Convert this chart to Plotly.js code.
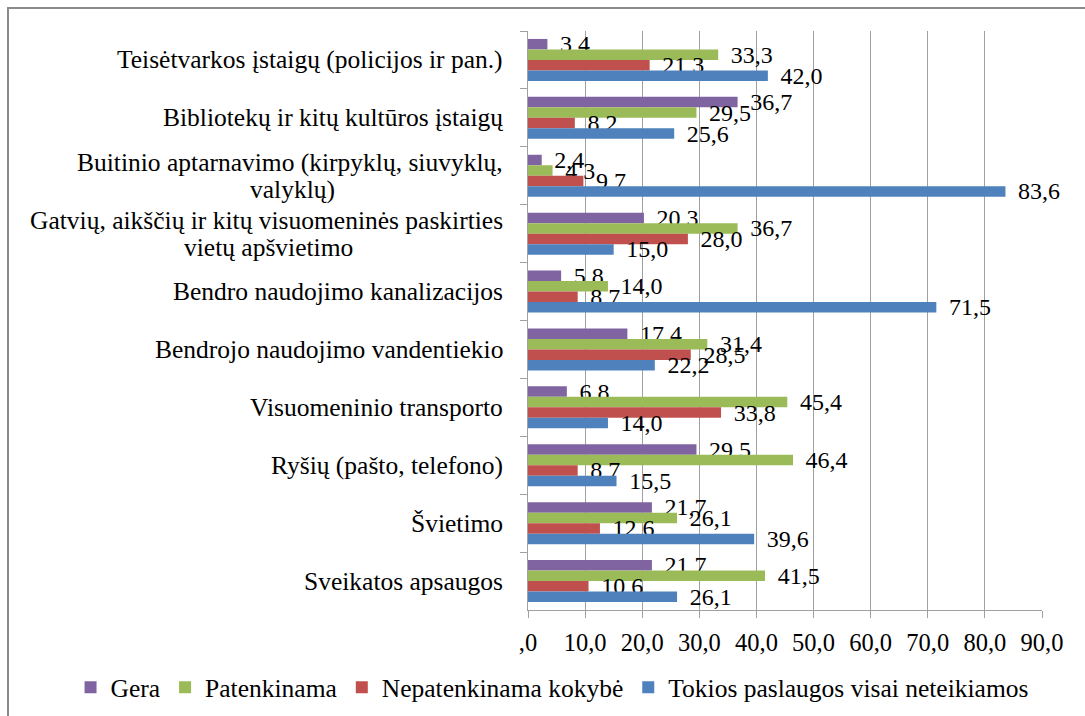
<!DOCTYPE html>
<html>
<head>
<meta charset="utf-8">
<script src="https://cdn.plot.ly/plotly-3.0.1.min.js"></script>
<style>
  html, body { margin: 0; padding: 0; background: #fff; }
  #wrap { position: relative; width: 1085px; height: 716px; overflow: hidden; }
  #chart { position: absolute; left: 0; top: 0; width: 1085px; height: 716px; }
  #frame { position: absolute; left: 7px; top: 7px; width: 1200px; height: 800px;
           border: 2px solid #8a8a8a; pointer-events: none; box-sizing: border-box; }
</style>
</head>
<body>
<div id="wrap">
  <div id="chart"></div>
  <div id="frame"></div>
</div>
<script>
// Categories, top to bottom
const categories = [
  "Teisėtvarkos įstaigų (policijos ir pan.)",
  "Bibliotekų ir kitų kultūros įstaigų",
  "Buitinio aptarnavimo (kirpyklų, siuvyklų,<br>valyklų)",
  "Gatvių, aikščių ir kitų visuomeninės paskirties<br>vietų apšvietimo",
  "Bendro naudojimo kanalizacijos",
  "Bendrojo naudojimo vandentiekio",
  "Visuomeninio transporto",
  "Ryšių (pašto, telefono)",
  "Švietimo",
  "Sveikatos apsaugos"
];

const seriesNames = ["Gera", "Patenkinama", "Nepatenkinama kokybė", "Tokios paslaugos visai neteikiamos"];
const seriesColors = ["#8064A2", "#9BBB59", "#C0504D", "#4F81BD"];

const gera          = [3.4, 36.7, 2.4, 20.3, 5.8, 17.4, 6.8, 29.5, 21.7, 21.7];
const patenkinama   = [33.3, 29.5, 4.3, 36.7, 14.0, 31.4, 45.4, 46.4, 26.1, 41.5];
const nepatenkinama = [21.3, 8.2, 9.7, 28.0, 8.7, 28.5, 33.8, 8.7, 12.6, 10.6];
const tokios        = [42.0, 25.6, 83.6, 15.0, 71.5, 22.2, 14.0, 15.5, 39.6, 26.1];

const xTickVals   = [0, 10, 20, 30, 40, 50, 60, 70, 80, 90];
const xTickLabels = [",0", "10,0", "20,0", "30,0", "40,0", "50,0", "60,0", "70,0", "80,0", "90,0"];

const FONT = "Liberation Serif, Times New Roman, Tinos, DejaVu Serif, serif";
const seriesValues = [gera, patenkinama, nepatenkinama, tokios];

const traces = seriesValues.map((vals, i) => ({
  type: "bar",
  orientation: "h",
  name: seriesNames[i],
  x: vals,
  y: categories,
  marker: { color: seriesColors[i] },
  texttemplate: "\u2009\u2009%{x:.1f}",
  textposition: "outside",
  constraintext: "none",
  cliponaxis: false,
  textfont: { family: FONT, size: 24, color: "#000" },
  hoverinfo: "x+name"
}));

// Category labels as annotations (centered multi-line)
const LH = 27;
const annotations = [];
categories.forEach(cat => {
  const lines = cat.split("<br>");
  const n = lines.length;
  lines.forEach((ln, j) => {
    annotations.push({
      xref: "paper", yref: "y",
      x: 0, y: cat,
      xshift: -23,
      yshift: ((n - 1) / 2 - j) * LH,
      xanchor: n > 1 && j > 0 ? "center" : "right", yanchor: "middle",
      text: ln, showarrow: false, align: "center",
      font: { family: FONT, size: 25.5, color: "#000" }
    });
  });
});

const layout = {
  width: 1085, height: 716,
  margin: { l: 528, r: 43, t: 31, b: 106, autoexpand: false },
  paper_bgcolor: "#fff", plot_bgcolor: "#fff",
  separators: ",.",
  barmode: "group",
  bargap: 0.275,
  bargroupgap: 0,
  showlegend: true,
  font: { family: FONT, size: 25, color: "#000" },
  xaxis: {
    range: [0, 90],
    tickmode: "array",
    tickvals: xTickVals,
    ticktext: xTickLabels,
    showgrid: true, gridcolor: "#a0a0a0", gridwidth: 1,
    zeroline: false,
    showline: true, linecolor: "#a0a0a0", linewidth: 1,
    ticks: "outside", ticklen: 7, tickcolor: "#a0a0a0",
    ticklabelstandoff: 4,
    tickfont: { family: FONT, size: 24.5, color: "#000" },
    automargin: false,
    fixedrange: true
  },
  yaxis: {
    type: "category",
    categoryorder: "array",
    categoryarray: categories,
    autorange: "reversed",
    tickson: "boundaries",
    ticks: "outside", ticklen: 7, tickcolor: "#a0a0a0",
    showticklabels: false,
    showgrid: false, zeroline: false,
    showline: true, linecolor: "#a0a0a0", linewidth: 1,
    automargin: false,
    fixedrange: true
  },
  legend: {
    orientation: "h",
    xref: "paper", yref: "paper",
    x: -0.89, xanchor: "left",
    y: -0.134, yanchor: "middle",
    font: { family: FONT, size: 25.5, color: "#000" },
    itemwidth: 30,
    bgcolor: "rgba(0,0,0,0)"
  },
  annotations: annotations
};

Plotly.newPlot("chart", traces, layout, { displayModeBar: false, staticPlot: true }).then(gd => {
  // center the continuation lines of wrapped category labels under their first line
  const texts = gd.querySelectorAll(".annotation-text");
  const ann = gd.layout.annotations.map(a => Object.assign({}, a));
  let changed = false;
  ann.forEach((a, k) => {
    if (a.xanchor === "center") {
      const firstEl = texts[k - 1];
      if (firstEl) {
        const w = firstEl.getBBox().width;
        a.xshift = -23 - w / 2;
        changed = true;
      }
    }
  });
  if (changed) Plotly.relayout(gd, { annotations: ann });
});
</script>
</body>
</html>
